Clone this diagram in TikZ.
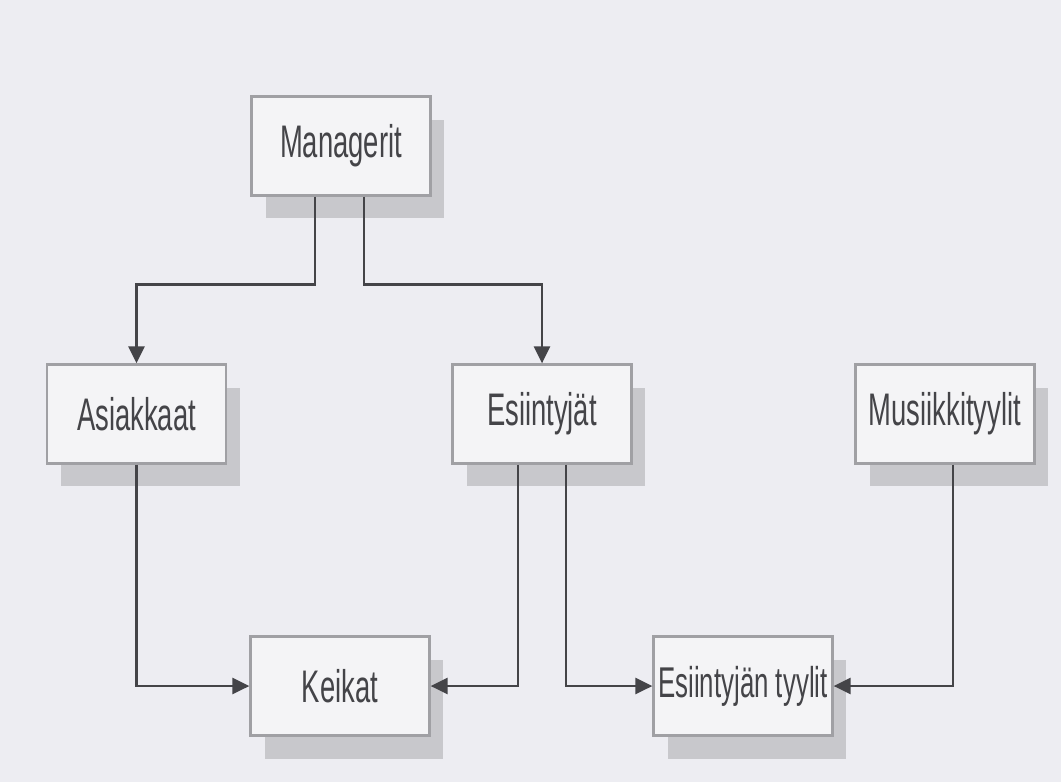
\documentclass[tikz,border=0pt]{standalone}
\usepackage{fontspec}
\setmainfont{Liberation Sans}[FakeStretch=0.6]
\usetikzlibrary{arrows.meta, shadows, positioning}

\definecolor{paper}{HTML}{EDEDF2}
\definecolor{boxfill}{HTML}{F4F4F6}
\definecolor{boxline}{HTML}{A0A0A4}
\definecolor{shade}{HTML}{C8C8CC}
\definecolor{ink}{HTML}{444448}

\tikzset{
	entity/.style={draw=boxline, line width=1.3pt, fill=boxfill,
		minimum width=3.58cm, minimum height=1.98cm, inner sep=0pt,
		text=ink, font=\fontsize{26}{30}\selectfont,
		drop shadow={shadow xshift=0.28cm, shadow yshift=-0.46cm,
			fill=shade, opacity=1}},
	conn/.style={draw=ink, line width=1.5pt,
		-{Triangle[length=0.34cm, width=0.32cm]}},
}

\begin{document}
\begin{tikzpicture}[x=0.02cm, y=0.02cm]
	\fill[paper] (0,0) rectangle (1061,-782);
	\useasboundingbox (0,0) rectangle (1061,-782);
	% NOTE: coordinates in pixels of the scan, y downwards.
	\node[entity] (man) at (341,-146) {Managerit};
	\node[entity] (asi) at (136.5,-414) {Asiakkaat};
	\node[entity] (esi) at (542,-414) {Esiintyjät};
	\node[entity] (mus) at (945,-414) {Musiikkityylit};
	\node[entity] (kei) at (340,-686) {Keikat};
	\node[entity, font=\fontsize{24.5}{30}\selectfont] (tyy) at (743,-686) {Esiintyjän tyylit};

	\draw[conn] ([xshift=-0.52cm]man.south) -- ++(0,-88) -| (asi.north);
	\draw[conn] ([xshift=0.46cm]man.south) -- ++(0,-88) -| (esi.north);
	\draw[conn] (asi.south) |- (kei.west);
	\draw[conn] ([xshift=-0.48cm]esi.south) |- (kei.east);
	\draw[conn] ([xshift=0.48cm]esi.south) |- (tyy.west);
	\draw[conn] ([xshift=0.16cm]mus.south) |- (tyy.east);
\end{tikzpicture}
\end{document}
